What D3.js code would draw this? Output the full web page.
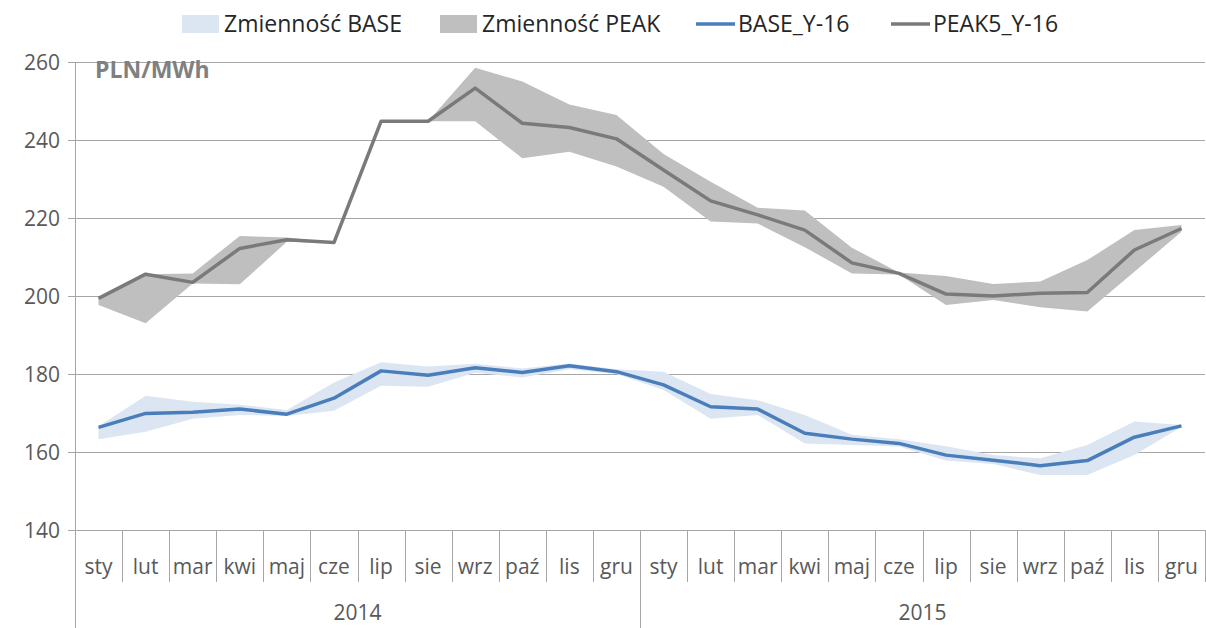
<!DOCTYPE html>
<html>
<head>
<meta charset="utf-8">
<script src="https://cdn.jsdelivr.net/npm/d3@7"></script>
<style>
  body { margin: 0; background: #fff; }
  svg { display: block; font-family: "Open Sans", "Noto Sans", sans-serif; }
</style>
</head>
<body>
<div id="chart"></div>
<script>
// categories
const months = ['sty', 'lut', 'mar', 'kwi', 'maj', 'cze', 'lip', 'sie', 'wrz', 'paź', 'lis', 'gru'];
const years = ['2014', '2015'];
const yTicks = [140, 160, 180, 200, 220, 240, 260];

// series (PLN/MWh)
const peak   = [199.4, 205.6, 203.5, 212.2, 214.4, 213.7, 244.8, 244.8, 253.3, 244.3, 243.2, 240.3,
                232.3, 224.4, 220.8, 216.9, 208.5, 205.8, 200.5, 200.0, 200.7, 200.9, 211.8, 217.3];
const peakHi = [199.6, 205.6, 205.8, 215.4, 215.0, 213.8, 244.8, 244.8, 258.5, 255.0, 249.1, 246.4,
                236.4, 229.3, 222.6, 221.9, 212.4, 206.0, 205.1, 203.1, 203.7, 209.2, 216.9, 218.2];
const peakLo = [197.7, 193.0, 203.2, 203.0, 213.9, 213.6, 244.8, 244.8, 244.8, 235.3, 237.0, 233.2,
                228.0, 219.1, 218.6, 212.5, 205.8, 205.5, 197.7, 199.0, 197.1, 196.0, 206.2, 216.5];

const base   = [166.3, 169.9, 170.2, 171.0, 169.7, 173.8, 180.8, 179.7, 181.6, 180.4, 182.1, 180.6,
                177.2, 171.6, 171.0, 164.8, 163.3, 162.2, 159.2, 157.9, 156.5, 157.8, 163.8, 166.7];
const baseHi = [166.6, 174.4, 172.9, 172.1, 170.8, 177.8, 183.0, 181.9, 182.6, 181.4, 182.7, 181.2,
                180.6, 174.9, 173.3, 169.5, 164.4, 163.3, 161.5, 159.2, 158.4, 161.8, 167.8, 166.9];
const baseLo = [163.3, 165.2, 168.5, 169.5, 169.2, 170.6, 177.0, 176.7, 180.3, 179.1, 181.2, 180.0,
                175.9, 168.5, 169.5, 162.2, 161.8, 161.4, 157.8, 156.9, 154.1, 154.1, 159.2, 166.4];

const width = 1206, height = 628;
const margin = {top: 62, right: 1, bottom: 98, left: 75};

const colors = {
    baseBand: '#dce6f2',
    peakBand: '#bfbfbf',
    baseLine: '#4a7ebb',
    peakLine: '#7a7a7a',
    grid: '#a6a6a6',
    text: '#595959'
};

// one key per month of both years
const keys = d3.cross(years, months).map(([y, m]) => y + '-' + m);

const x = d3.scaleBand()
    .domain(keys)
    .range([margin.left, width - margin.right]);

const y = d3.scaleLinear()
    .domain([140, 260])
    .range([height - margin.bottom, margin.top]);

const cx = i => x(keys[i]) + x.bandwidth() / 2;

const svg = d3.select('#chart')
    .append('svg')
    .attr('width', width)
    .attr('height', height);

// gridlines
svg.append('g')
    .selectAll('line')
    .data(yTicks)
    .join('line')
    .attr('x1', margin.left - 7)
    .attr('x2', width - margin.right)
    .attr('y1', d => Math.round(y(d)) + 0.5)
    .attr('y2', d => Math.round(y(d)) + 0.5)
    .attr('stroke', colors.grid)
    .attr('stroke-width', 1);

// y tick labels
svg.append('g')
    .selectAll('text')
    .data(yTicks)
    .join('text')
    .attr('x', 60)
    .attr('y', d => y(d))
    .attr('dy', '0.36em')
    .attr('text-anchor', 'end')
    .attr('fill', colors.text)
    .style('font-size', '21px')
    .text(d => d);

// left axis line
svg.append('line')
    .attr('x1', margin.left + 0.5).attr('x2', margin.left + 0.5)
    .attr('y1', y(260)).attr('y2', height)
    .attr('stroke', colors.grid);

// category separators
const axisY = Math.round(y(140));
svg.append('g')
    .selectAll('line')
    .data(d3.range(1, keys.length + 1))
    .join('line')
    .attr('x1', i => Math.round(i < keys.length ? x(keys[i]) : width - margin.right) + 0.5)
    .attr('x2', i => Math.round(i < keys.length ? x(keys[i]) : width - margin.right) + 0.5)
    .attr('y1', axisY)
    .attr('y2', i => i === 12 ? height : axisY + 52)
    .attr('stroke', colors.grid);

// month labels
svg.append('g')
    .selectAll('text')
    .data(keys)
    .join('text')
    .attr('x', d => x(d) + x.bandwidth() / 2)
    .attr('y', axisY + 36)
    .attr('dy', '0.36em')
    .attr('text-anchor', 'middle')
    .attr('fill', colors.text)
    .style('font-size', '21px')
    .text(d => d.split('-')[1]);

// year labels
svg.append('g')
    .selectAll('text')
    .data(years)
    .join('text')
    .attr('x', (d, i) => (x(keys[i * 12]) + x(keys[i * 12 + 11]) + x.bandwidth()) / 2)
    .attr('y', axisY + 82)
    .attr('dy', '0.36em')
    .attr('text-anchor', 'middle')
    .attr('fill', colors.text)
    .style('font-size', '21px')
    .text(d => d);

// bands
const band = (lo, hi) => d3.area()
    .x((d, i) => cx(i))
    .y0((d, i) => y(lo[i]))
    .y1((d, i) => y(hi[i]))(keys);

svg.append('path')
    .attr('d', band(baseLo, baseHi))
    .attr('fill', colors.baseBand);

svg.append('path')
    .attr('d', band(peakLo, peakHi))
    .attr('fill', colors.peakBand);

// lines
const line = d3.line()
    .x((d, i) => cx(i))
    .y(d => y(d));

svg.append('path')
    .attr('d', line(base))
    .attr('fill', 'none')
    .attr('stroke', colors.baseLine)
    .attr('stroke-width', 3.5)
    .attr('stroke-linejoin', 'round');

svg.append('path')
    .attr('d', line(peak))
    .attr('fill', 'none')
    .attr('stroke', colors.peakLine)
    .attr('stroke-width', 3.5)
    .attr('stroke-linejoin', 'round');

// unit label
svg.append('text')
    .attr('x', 95)
    .attr('y', 70)
    .attr('dy', '0.36em')
    .attr('fill', '#808080')
    .style('font-size', '23px')
    .style('font-weight', 'bold')
    .text('PLN/MWh');

// legend
const legendItems = [
    {label: 'Zmienność BASE', type: 'rect', color: colors.baseBand, x: 182},
    {label: 'Zmienność PEAK', type: 'rect', color: colors.peakBand, x: 440},
    {label: 'BASE_Y-16', type: 'line', color: colors.baseLine, x: 696},
    {label: 'PEAK5_Y-16', type: 'line', color: colors.peakLine, x: 891}
];

const legend = svg.append('g');
const li = legend.selectAll('g')
    .data(legendItems)
    .join('g')
    .attr('transform', d => `translate(${d.x},24)`);

li.filter(d => d.type === 'rect')
    .append('rect')
    .attr('x', 0).attr('y', -9)
    .attr('width', 37).attr('height', 18)
    .attr('fill', d => d.color);

li.filter(d => d.type === 'line')
    .append('line')
    .attr('x1', 0).attr('x2', 39)
    .attr('y1', 0).attr('y2', 0)
    .attr('stroke', d => d.color)
    .attr('stroke-width', 3.5);

li.append('text')
    .attr('x', 42)
    .attr('y', 0)
    .attr('dy', '0.36em')
    .attr('fill', '#262626')
    .style('font-size', '23px')
    .text(d => d.label);
</script>
</body>
</html>
